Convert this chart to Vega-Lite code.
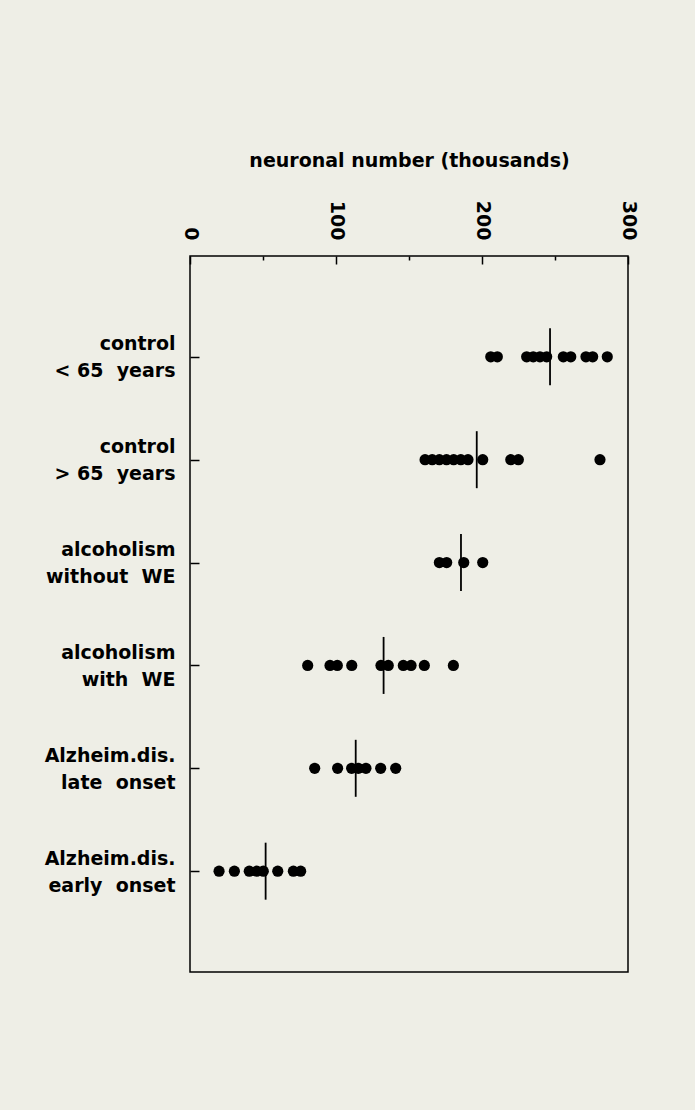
{
  "$schema": "https://vega.github.io/schema/vega-lite/v6.json",
  "autosize": {"type": "none"},
  "width": 438,
  "height": 716,
  "padding": {"left": 190, "top": 256, "right": 67, "bottom": 138},
  "background": "#eeeee6",
  "config": {
    "view": {"stroke": "black", "strokeWidth": 1.5, "fill": "#eeeee6"},
    "font": "DejaVu Sans"
  },
  "datasets": {
    "points": [
      {"group": "control|< 65 years", "value": 206},
      {"group": "control|< 65 years", "value": 210.5},
      {"group": "control|< 65 years", "value": 230.6},
      {"group": "control|< 65 years", "value": 235.1},
      {"group": "control|< 65 years", "value": 239.7},
      {"group": "control|< 65 years", "value": 244.3},
      {"group": "control|< 65 years", "value": 255.7},
      {"group": "control|< 65 years", "value": 260.8},
      {"group": "control|< 65 years", "value": 271.2},
      {"group": "control|< 65 years", "value": 275.8},
      {"group": "control|< 65 years", "value": 285.8},
      {"group": "control|> 65 years", "value": 161},
      {"group": "control|> 65 years", "value": 165.9},
      {"group": "control|> 65 years", "value": 170.8},
      {"group": "control|> 65 years", "value": 175.7},
      {"group": "control|> 65 years", "value": 180.6},
      {"group": "control|> 65 years", "value": 185.5},
      {"group": "control|> 65 years", "value": 190.4},
      {"group": "control|> 65 years", "value": 200.5},
      {"group": "control|> 65 years", "value": 219.7},
      {"group": "control|> 65 years", "value": 224.9},
      {"group": "control|> 65 years", "value": 280.8},
      {"group": "alcoholism|without WE", "value": 170.8},
      {"group": "alcoholism|without WE", "value": 175.8},
      {"group": "alcoholism|without WE", "value": 187.5},
      {"group": "alcoholism|without WE", "value": 200.5},
      {"group": "alcoholism|with WE", "value": 80.6},
      {"group": "alcoholism|with WE", "value": 95.9},
      {"group": "alcoholism|with WE", "value": 100.9},
      {"group": "alcoholism|with WE", "value": 110.8},
      {"group": "alcoholism|with WE", "value": 130.8},
      {"group": "alcoholism|with WE", "value": 135.8},
      {"group": "alcoholism|with WE", "value": 146.1},
      {"group": "alcoholism|with WE", "value": 151.4},
      {"group": "alcoholism|with WE", "value": 160.5},
      {"group": "alcoholism|with WE", "value": 180.4},
      {"group": "Alzheim.dis.|late onset", "value": 85.4},
      {"group": "Alzheim.dis.|late onset", "value": 101.1},
      {"group": "Alzheim.dis.|late onset", "value": 110.7},
      {"group": "Alzheim.dis.|late onset", "value": 115.3},
      {"group": "Alzheim.dis.|late onset", "value": 120.5},
      {"group": "Alzheim.dis.|late onset", "value": 130.6},
      {"group": "Alzheim.dis.|late onset", "value": 140.9},
      {"group": "Alzheim.dis.|early onset", "value": 19.9},
      {"group": "Alzheim.dis.|early onset", "value": 30.4},
      {"group": "Alzheim.dis.|early onset", "value": 40.6},
      {"group": "Alzheim.dis.|early onset", "value": 45.7},
      {"group": "Alzheim.dis.|early onset", "value": 50.2},
      {"group": "Alzheim.dis.|early onset", "value": 60.1},
      {"group": "Alzheim.dis.|early onset", "value": 70.8},
      {"group": "Alzheim.dis.|early onset", "value": 75.8}
    ],
    "means": [
      {"group": "control|< 65 years", "value": 246.6},
      {"group": "control|> 65 years", "value": 196.4},
      {"group": "alcoholism|without WE", "value": 185.6},
      {"group": "alcoholism|with WE", "value": 132.6},
      {"group": "Alzheim.dis.|late onset", "value": 113.5},
      {"group": "Alzheim.dis.|early onset", "value": 51.8}
    ]
  },
  "layer": [
    {
      "data": {"name": "points"},
      "mark": {"type": "circle", "size": 125, "color": "black", "opacity": 1},
      "encoding": {
        "x": {
          "field": "value",
          "type": "quantitative",
          "scale": {"domain": [0, 300], "nice": false, "zero": false},
          "axis": {
            "orient": "top",
            "title": "neuronal number (thousands)",
            "titleFont": "DejaVu Sans",
            "titleFontSize": 19,
            "titleFontWeight": "bold",
            "titleColor": "black",
            "titlePadding": 30,
            "values": [0, 50, 100, 150, 200, 250, 300],
            "labelExpr": "datum.value % 100 === 0 ? datum.label : ''",
            "labelAngle": 90,
            "labelAlign": "right",
            "labelBaseline": "middle",
            "labelFont": "DejaVu Sans",
            "labelFontSize": 19,
            "labelFontWeight": "bold",
            "labelColor": "black",
            "labelPadding": 24,
            "tickSize": {"condition": {"test": "datum.value % 100 === 0", "value": -8}, "value": -4},
            "tickColor": "black",
            "tickWidth": 1.5,
            "domain": false,
            "grid": false
          }
        },
        "y": {
          "field": "group",
          "type": "nominal",
          "sort": ["control|< 65 years", "control|> 65 years", "alcoholism|without WE", "alcoholism|with WE", "Alzheim.dis.|late onset", "Alzheim.dis.|early onset"],
          "scale": {"type": "point", "padding": 0.98},
          "axis": {
            "title": null,
            "labelExpr": "split(replace(replace(replace(datum.label, / /g, '\u00a0\u00a0'), '<\u00a0\u00a0', '<\u00a0'), '>\u00a0\u00a0', '>\u00a0'), '|')",
            "labelFont": "DejaVu Sans",
            "labelFontSize": 19,
            "labelFontWeight": "bold",
            "labelColor": "black",
            "labelLineHeight": 27,
            "labelAlign": "right",
            "labelBaseline": "middle",
            "labelOffset": -13,
            "labelPadding": 24,
            "tickSize": -9,
            "tickColor": "black",
            "tickWidth": 1.5,
            "domain": false,
            "grid": false
          }
        }
      }
    },
    {
      "data": {"name": "means"},
      "mark": {"type": "tick", "size": 57, "thickness": 1.8, "color": "black", "opacity": 1},
      "encoding": {
        "x": {"field": "value", "type": "quantitative"},
        "y": {
          "field": "group",
          "type": "nominal",
          "sort": ["control|< 65 years", "control|> 65 years", "alcoholism|without WE", "alcoholism|with WE", "Alzheim.dis.|late onset", "Alzheim.dis.|early onset"]
        }
      }
    }
  ]
}
